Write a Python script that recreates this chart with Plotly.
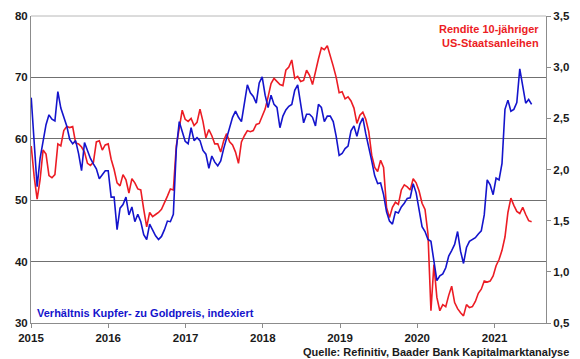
import pandas as pd
import plotly.graph_objects as go

# Bi-weekly observations starting 2015-01-02
start_date = "2015-01-02"
step = "14D"

# Verhältnis Kupfer- zu Goldpreis, indexiert (left axis)
kupfer_gold = [
    66.7, 58.4, 52.2, 56.8, 59.7, 62.3, 63.9, 63.2, 62.9, 67.7,
    65.0, 63.5, 62.1, 59.9, 59.2, 59.7, 57.6, 54.8, 59.4, 58.1,
    56.8, 55.9, 55.1, 53.5, 54.1, 54.8, 54.8, 50.5, 50.5, 45.2,
    48.7, 49.3, 50.5, 47.6, 48.9, 46.5, 47.7, 46.5, 44.4, 43.6,
    46.1, 45.0, 44.2, 43.6, 44.1, 45.2, 46.6, 46.5, 47.7, 58.3,
    62.8, 61.2, 59.6, 59.2, 61.8, 59.7, 60.2, 59.7, 58.1, 57.5,
    55.2, 57.2, 56.2, 55.6, 56.4, 58.4, 60.0, 61.6, 63.5, 64.5,
    63.5, 62.8, 65.9, 68.8, 67.5, 66.9, 65.8, 69.1, 70.1, 67.1,
    65.1, 67.1, 65.6, 65.1, 61.8, 63.7, 64.7, 65.3, 65.6, 67.9,
    68.8, 65.6, 62.6, 64.0, 64.0, 63.5, 62.1, 65.6, 65.1, 62.8,
    63.7, 63.7, 62.8, 60.4, 57.3, 57.6, 58.4, 58.8, 61.3, 62.1,
    60.4, 62.4, 63.4, 60.8, 58.3, 56.4, 54.0, 52.7, 52.8, 50.9,
    48.1, 46.6, 46.1, 48.1, 47.9, 48.9, 49.5, 50.3, 50.4, 52.7,
    51.2, 48.5, 45.7, 44.9, 43.6, 43.3, 39.8, 36.9, 37.7, 38.0,
    39.0, 40.9, 41.8, 42.8, 44.9, 41.7, 39.7, 42.3, 43.3, 43.6,
    43.9, 44.5, 45.0, 47.6, 53.3, 52.5, 50.9, 53.6, 53.3, 56.0,
    64.8, 66.3, 64.5, 64.8, 65.9, 71.4, 68.8, 65.8, 66.4, 65.6,
]

# Rendite 10-jähriger US-Staatsanleihen (right axis, %)
rendite = [
    2.23, 1.93, 1.71, 1.90, 2.19, 2.15, 1.94, 1.92, 1.95, 2.25,
    2.23, 2.38, 2.42, 2.41, 2.42, 2.26, 2.25, 2.22, 2.17, 2.06,
    2.04, 2.07, 2.27, 2.28, 2.19, 2.24, 2.25, 2.10, 2.00, 1.87,
    1.84, 1.95, 1.90, 1.77, 1.91, 1.87, 1.81, 1.80, 1.61, 1.44,
    1.58, 1.54, 1.56, 1.58, 1.61, 1.67, 1.74, 1.81, 1.80, 2.23,
    2.43, 2.58, 2.49, 2.47, 2.50, 2.43, 2.46, 2.59, 2.47, 2.31,
    2.39, 2.33, 2.25, 2.25, 2.17, 2.28, 2.35, 2.27, 2.24, 2.17,
    2.06, 2.27, 2.33, 2.38, 2.37, 2.38, 2.44, 2.45, 2.52, 2.59,
    2.71, 2.84, 2.89, 2.86, 2.83, 2.82, 2.97, 3.00, 3.07, 2.89,
    2.91, 2.86, 2.87, 2.97, 2.92, 2.83, 2.97, 3.08, 3.19, 3.17,
    3.21, 3.12, 3.01, 2.90, 2.75, 2.76, 2.69, 2.71, 2.67, 2.60,
    2.45, 2.53, 2.56, 2.49, 2.37, 2.14, 2.02, 1.98, 2.09, 2.02,
    1.63, 1.53, 1.63, 1.68, 1.66, 1.80, 1.85, 1.83, 1.80, 1.91,
    1.87, 1.79, 1.67, 1.61, 1.37, 0.62, 1.07, 0.75, 0.62, 0.68,
    0.66, 0.77, 0.86, 0.70, 0.64, 0.60, 0.57, 0.68, 0.65, 0.66,
    0.71, 0.79, 0.83, 0.91, 0.90, 0.91, 0.96, 1.06, 1.12, 1.21,
    1.34, 1.58, 1.72, 1.65, 1.59, 1.57, 1.63, 1.56, 1.50, 1.49,
]

dates = pd.date_range(start=start_date, periods=len(kupfer_gold), freq=step)

RED = "#EC1C24"
BLUE = "#1414CC"
FONT = "Arial, Liberation Sans, sans-serif"
tickfont = dict(family=FONT, size=11.5, color="#1a1a1a", weight="bold")

fig = go.Figure()
fig.add_trace(go.Scatter(x=dates, y=rendite, mode="lines", yaxis="y",
                         line=dict(color=RED, width=1.6), name="Rendite"))
fig.add_trace(go.Scatter(x=dates, y=kupfer_gold, mode="lines", yaxis="y2",
                         line=dict(color=BLUE, width=1.6), name="Kupfer/Gold"))

fig.update_layout(
    width=580, height=359,
    margin=dict(l=31, r=28, t=10, b=36),
    paper_bgcolor="white", plot_bgcolor="white",
    showlegend=False,
    separators=",.",
    xaxis=dict(type="date", range=["2015-01-01", "2021-09-01"],
               dtick="M12", tick0="2015-01-01", tickformat="%Y",
               ticks="outside", ticklen=4, tickcolor="#8c8c8c",
               showline=True, linecolor="#8c8c8c", linewidth=1,
               showgrid=False, zeroline=False, tickfont=tickfont),
    yaxis=dict(side="right", range=[0.5, 3.5], dtick=0.5, tick0=0.5,
               tickformat=".1f", ticks="outside", ticklen=4, tickcolor="#8c8c8c",
               showline=True, linecolor="#8c8c8c", linewidth=1,
               showgrid=False, zeroline=False, tickfont=tickfont),
    yaxis2=dict(overlaying="y", side="left", range=[30, 80], dtick=10, tick0=30,
                ticks="", showline=True, linecolor="#8c8c8c", linewidth=1,
                showgrid=True, gridcolor="#707070", gridwidth=1,
                zeroline=False, tickfont=tickfont),
)

fig.add_shape(type="line", xref="paper", yref="paper", x0=0, x1=1, y0=1, y1=1,
              line=dict(color="#b8b8b8", width=1), layer="above")

ANN = 11
fig.add_annotation(xref="paper", yref="paper", x=0.99, y=0.985,
                   xanchor="right", yanchor="top", align="right", showarrow=False,
                   text="<b>Rendite 10-jähriger<br>US-Staatsanleihen</b>",
                   font=dict(family=FONT, size=ANN, color=RED))
fig.add_annotation(xref="paper", yref="paper", x=0.007, y=0.032,
                   xanchor="left", yanchor="middle", showarrow=False,
                   text="<b>Verhältnis Kupfer- zu Goldpreis, indexiert</b>",
                   font=dict(family=FONT, size=ANN, color=BLUE))
fig.add_annotation(xref="paper", yref="paper", x=1.048, y=-0.093,
                   xanchor="right", yanchor="middle", showarrow=False,
                   text="<b>Quelle: Refinitiv, Baader Bank Kapitalmarktanalyse</b>",
                   font=dict(family=FONT, size=ANN, color="#1a1a1a"))

fig.write_html("out.html", config={"displayModeBar": False},
               post_script="document.body.style.margin='0';")
